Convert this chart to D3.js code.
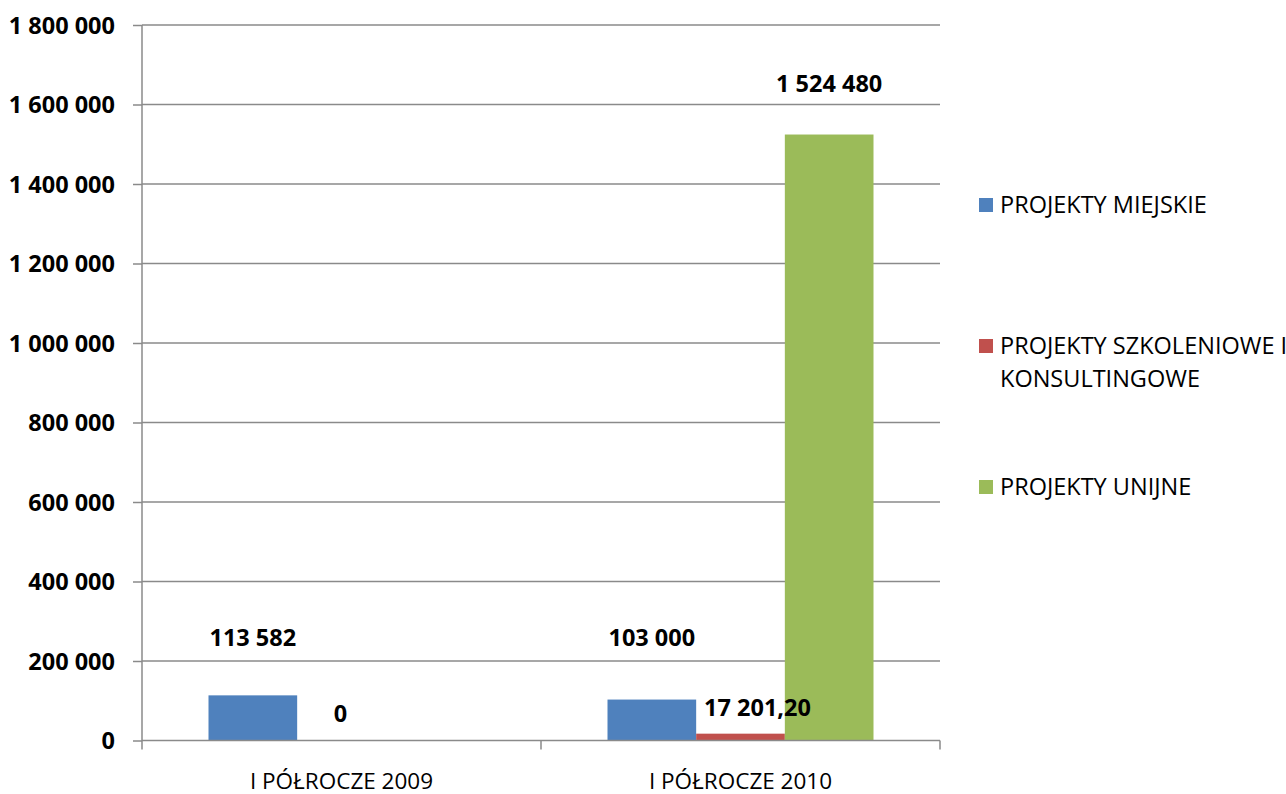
<!DOCTYPE html>
<html>
<head>
<meta charset="utf-8">
<script src="https://cdn.jsdelivr.net/npm/d3@7"></script>
<style>
  html, body { margin: 0; padding: 0; background: #ffffff; }
  svg { display: block; }
</style>
</head>
<body>
<svg id="chart" width="1286" height="794"></svg>
<script>
// ---- data ----
const categories = ["I PÓŁROCZE 2009", "I PÓŁROCZE 2010"];
const seriesNames = ["PROJEKTY MIEJSKIE", "PROJEKTY SZKOLENIOWE I KONSULTINGOWE", "PROJEKTY UNIJNE"];
const miejskie = [113582, 103000];
const szkoleniowe = [0, 17201.20];
const unijne = [null, 1524480];
const valueLabels = [["113 582", "103 000"], ["0", "17 201,20"], [null, "1 524 480"]];
const yTicks = [0, 200000, 400000, 600000, 800000, 1000000, 1200000, 1400000, 1600000, 1800000];
const legendLines = [["PROJEKTY MIEJSKIE"], ["PROJEKTY SZKOLENIOWE I", "KONSULTINGOWE"], ["PROJEKTY UNIJNE"]];

// ---- styling / layout ----
const colors = ["#4F81BD", "#C0504D", "#9BBB59"];
const gridColor = "#8a8a8a";
const font = "'Open Sans', 'Liberation Sans', sans-serif";
const plot = { left: 142, right: 940, top: 25, bottom: 740.5 };
// manual label offsets (dx, dy from bar top-centre), as in the original
const labelOffsets = [[[0, -49], [0, -54]], [[-1, -19], [17, -18]], [null, [0, -43]]];

const seriesValues = [miejskie, szkoleniowe, unijne];
const svg = d3.select("#chart");

const y = d3.scaleLinear().domain([0, 1800000]).range([plot.bottom, plot.top]);
const x0 = d3.scaleBand().domain(categories).range([plot.left, plot.right]).padding(0);
const groupInset = x0.bandwidth() / 6;
const x1 = d3.scaleBand().domain(d3.range(seriesNames.length))
  .range([groupInset, x0.bandwidth() - groupInset]).padding(0);

// gridlines
svg.append("g").selectAll("line").data(yTicks.filter(t => t > 0)).join("line")
  .attr("x1", plot.left).attr("x2", plot.right)
  .attr("y1", d => y(d)).attr("y2", d => y(d))
  .attr("stroke", gridColor).attr("stroke-width", 1.5);

// y axis
const yAxis = d3.axisLeft(y).tickValues(yTicks).tickSize(9).tickPadding(18)
  .tickFormat(d => d3.format(",")(d).replace(/,/g, " "));
const gy = svg.append("g").attr("transform", `translate(${plot.left},0)`).call(yAxis);
gy.select(".domain").attr("d", `M0,${plot.bottom + 9}V${plot.top}`).attr("stroke", gridColor).attr("stroke-width", 1.5);
gy.selectAll(".tick line").attr("stroke", gridColor).attr("stroke-width", 1.5);
gy.selectAll(".tick text").attr("font-family", font).attr("font-size", 23.5).attr("font-weight", "bold")
  .attr("fill", "#000").attr("dy", "0.36em");

// bars
const gBars = svg.append("g");
seriesValues.forEach((vals, si) => {
  gBars.append("g").selectAll("rect")
    .data(categories.map((c, ci) => ({ c, v: vals[ci] })).filter(d => d.v !== null))
    .join("rect")
    .attr("x", d => x0(d.c) + x1(si))
    .attr("width", x1.bandwidth())
    .attr("y", d => y(d.v))
    .attr("height", d => y(0) - y(d.v))
    .attr("fill", colors[si]);
});

// x axis
const gx = svg.append("g").attr("transform", `translate(0,${plot.bottom})`);
gx.append("line").attr("x1", plot.left).attr("x2", plot.right).attr("y1", 0).attr("y2", 0)
  .attr("stroke", gridColor).attr("stroke-width", 1.5);
gx.selectAll("line.tk").data(categories).join("line").attr("class", "tk")
  .attr("x1", d => x0(d) + x0.bandwidth()).attr("x2", d => x0(d) + x0.bandwidth())
  .attr("y1", 0).attr("y2", 9).attr("stroke", gridColor).attr("stroke-width", 1.5);
gx.selectAll("text").data(categories).join("text")
  .attr("x", d => x0(d) + x0.bandwidth() / 2).attr("y", 48)
  .attr("text-anchor", "middle").attr("font-family", font).attr("font-size", 22.5)
  .attr("fill", "#000").text(d => d);

// value labels
const gLab = svg.append("g");
seriesValues.forEach((vals, si) => {
  categories.forEach((c, ci) => {
    const lbl = valueLabels[si][ci];
    if (lbl === null || vals[ci] === null) return;
    const off = labelOffsets[si][ci];
    gLab.append("text")
      .attr("x", x0(c) + x1(si) + x1.bandwidth() / 2 + off[0])
      .attr("y", y(vals[ci]) + off[1])
      .attr("text-anchor", "middle").attr("font-family", font).attr("font-size", 23.5)
      .attr("font-weight", "bold").attr("fill", "#000").text(lbl);
  });
});

// legend
const legendY = [213, 354, 495];
const gLeg = svg.append("g");
legendLines.forEach((lines, i) => {
  gLeg.append("rect").attr("x", 979).attr("y", legendY[i] - 15).attr("width", 14).attr("height", 14)
    .attr("fill", colors[i]);
  lines.forEach((ln, j) => {
    gLeg.append("text").attr("x", 1000).attr("y", legendY[i] + j * 32.5)
      .attr("font-family", font).attr("font-size", 23.5).attr("fill", "#000").text(ln);
  });
});
</script>
</body>
</html>
